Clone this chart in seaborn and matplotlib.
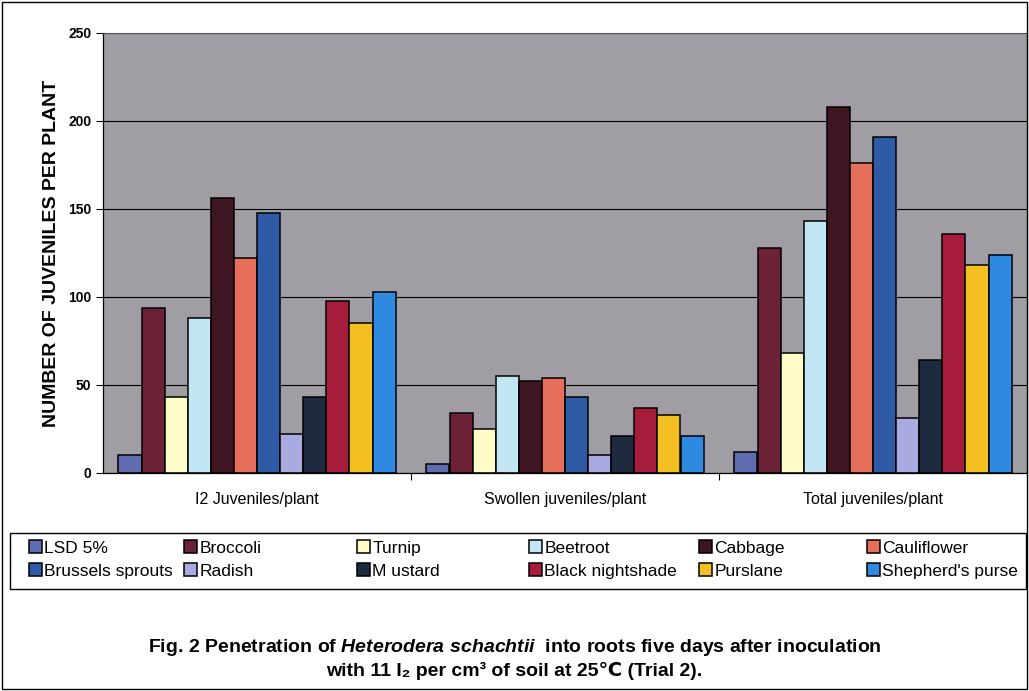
import pandas as pd
import seaborn as sns
import matplotlib.pyplot as plt
from matplotlib.patches import Rectangle

# Data
stages = ['I2 Juveniles/plant', 'Swollen juveniles/plant', 'Total juveniles/plant']
plants = ['LSD 5%', 'Broccoli', 'Turnip', 'Beetroot', 'Cabbage', 'Cauliflower',
          'Brussels sprouts', 'Radish', 'M ustard', 'Black nightshade', 'Purslane',
          "Shepherd's purse"]

lsd = [10, 5, 12]
broccoli = [94, 34, 128]
turnip = [43, 25, 68]
beetroot = [88, 55, 143]
cabbage = [156, 52, 208]
cauliflower = [122, 54, 176]
brussels = [148, 43, 191]
radish = [22, 10, 31]
mustard = [43, 21, 64]
nightshade = [98, 37, 136]
purslane = [85, 33, 118]
shepherds = [103, 21, 124]

colors = ['#5f6db0', '#6b2236', '#fffcc8', '#c2e6f4', '#3e1520', '#e56f5b',
          '#2f5ba6', '#a9aae0', '#1e2a40', '#a51d3a', '#f4c021', '#2e8ae0']

values = [lsd, broccoli, turnip, beetroot, cabbage, cauliflower, brussels,
          radish, mustard, nightshade, purslane, shepherds]
rows = []
for plant, vals in zip(plants, values):
    for stage, v in zip(stages, vals):
        rows.append({'stage': stage, 'plant': plant, 'count': v})
df = pd.DataFrame(rows)

plt.rcParams['font.family'] = ['Liberation Sans', 'DejaVu Sans']
plt.rcParams['mathtext.fontset'] = 'custom'
plt.rcParams['mathtext.it'] = 'Liberation Sans:italic:bold'
plt.rcParams['mathtext.rm'] = 'Liberation Sans:bold'

fig = plt.figure(figsize=(10.29, 6.91), dpi=100)
ax = fig.add_axes([103 / 1029, 1 - 473 / 691, 924 / 1029, 440 / 691])
ax.set_facecolor('#a09ea4')

sns.barplot(data=df, x='stage', y='count', hue='plant', hue_order=plants,
            palette=colors, saturation=1, width=0.9, gap=0, edgecolor='black',
            linewidth=1.1, errorbar=None, ax=ax)

ax.set_ylim(0, 250)
ax.set_xlim(-0.5, 2.5)
ax.set_yticks(range(0, 251, 50))
ax.set_axisbelow(True)
ax.yaxis.grid(True, color='black', linewidth=0.8)
for lbl in ax.get_yticklabels():
    lbl.set_fontweight('bold')
ax.tick_params(axis='y', labelsize=10, length=5, direction='out', width=0.8)
ax.tick_params(axis='x', which='major', length=0, labelsize=11.5, pad=14,
               labelcolor='black')
ax.set_xticks([0.5, 1.5], minor=True)
ax.tick_params(axis='x', which='minor', length=5, width=0.8)
for s in ['left', 'bottom']:
    ax.spines[s].set_color('black')
    ax.spines[s].set_linewidth(0.9)
for s in ['top', 'right']:
    ax.spines[s].set_color('#555555')
    ax.spines[s].set_linewidth(0.8)
ax.set_xlabel('')
ax.set_ylabel('NUMBER OF JUVENILES PER PLANT', fontsize=14, fontweight='bold',
              labelpad=6)

# Legend: fixed-width columns, filled row by row as in the original
handles, labels = ax.get_legend_handles_labels()
ax.get_legend().remove()
col_x = [26, 181, 354, 526, 696, 864]
for c, x in enumerate(col_x):
    idx = [c, c + 6]
    fig.legend([handles[i] for i in idx], [labels[i] for i in idx],
               loc='upper left', bbox_to_anchor=(x / 1029, 1 - 537 / 691),
               fontsize=12.5, handlelength=0.7, handleheight=0.7,
               handletextpad=0.15, borderpad=0.2, labelspacing=0.45,
               frameon=False, borderaxespad=0)
fig.patches.append(Rectangle((10 / 1029, 1 - 589 / 691), 1016 / 1029, 56 / 691,
                             transform=fig.transFigure, fill=False,
                             edgecolor='black', linewidth=1.0))

# Caption
fig.text(0.5, 1 - 648 / 691,
         'Fig. 2 Penetration of $\\it{Heterodera\\ schachtii}$  into roots five days after inoculation',
         ha='center', va='center', fontsize=14, fontweight='bold')
fig.text(0.5, 1 - 671 / 691, 'with 11 I\u2082 per cm\u00b3 of soil at 25\u2103 (Trial 2).',
         ha='center', va='center', fontsize=14, fontweight='bold',
         family=['Liberation Sans', 'DejaVu Sans'])

fig.patches.append(Rectangle((2 / 1029, 2 / 691), 1025 / 1029, 687 / 691,
                             transform=fig.transFigure, fill=False,
                             edgecolor='black', linewidth=1.0))

fig.savefig('out.png', dpi=100)
